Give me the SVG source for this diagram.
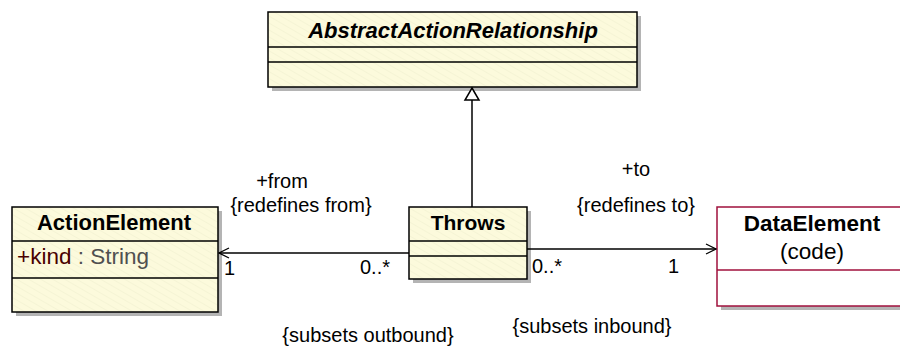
<svg xmlns="http://www.w3.org/2000/svg" width="900" height="346" viewBox="0 0 900 346">
<defs>
<pattern id="hatch" width="6" height="6" patternUnits="userSpaceOnUse" patternTransform="rotate(-60)">
<rect width="6" height="6" fill="#fcfadc"/>
<line x1="0" y1="0" x2="0" y2="6" stroke="#efeecf" stroke-width="1"/>
</pattern>
<marker id="open" markerWidth="12" markerHeight="12" refX="11" refY="6" orient="auto" markerUnits="userSpaceOnUse">
<path d="M1,1 L11,6 L1,11" fill="none" stroke="#000" stroke-width="1.3"/>
</marker>
</defs>
<style>
.shadow{fill:#b4b4b4}
.box{fill:url(#hatch);stroke:#000;stroke-width:1.5}
.sep{stroke:#000;stroke-width:1.5}
.dbox{fill:#fff;stroke:#a0103c;stroke-width:1.5}
.dsep{stroke:#a0103c;stroke-width:1.5}
.name{font-family:"Liberation Sans",Arial,sans-serif;font-weight:bold;font-size:21px;text-anchor:middle;fill:#000}
.lbl{font-family:"Liberation Sans",Arial,sans-serif;font-size:20px;fill:#000}
.conn{stroke:#000;stroke-width:1.5;fill:none}
</style>
<g id="AbstractActionRelationship">
<rect class="shadow" x="272" y="16" width="369" height="75"/>
<rect class="box" x="268" y="12" width="369" height="75"/>
<line class="sep" x1="268" y1="47" x2="637" y2="47"/>
<line class="sep" x1="268" y1="62" x2="637" y2="62"/>
<text class="name" x="453" y="38" style="font-style:italic;font-size:22px">AbstractActionRelationship</text>
</g>
<g id="ActionElement">
<rect class="shadow" x="16" y="211" width="206" height="105"/>
<rect class="box" x="12" y="207" width="206" height="105"/>
<line class="sep" x1="12" y1="241" x2="218" y2="241"/>
<line class="sep" x1="12" y1="278" x2="218" y2="278"/>
<text class="name" x="114" y="230" style="font-size:22px">ActionElement</text>
<text class="lbl" x="17" y="264" style="font-size:22.5px"><tspan fill="#4a0000">+kind</tspan><tspan fill="#505050"> : String</tspan></text>
</g>
<g id="Throws">
<rect class="shadow" x="413" y="211" width="118" height="72"/>
<rect class="box" x="409" y="207" width="118" height="72"/>
<line class="sep" x1="409" y1="241" x2="527" y2="241"/>
<line class="sep" x1="409" y1="256" x2="527" y2="256"/>
<text class="name" x="468" y="230">Throws</text>
</g>
<g id="DataElement">
<rect class="shadow" x="721" y="211" width="190" height="99"/>
<rect class="dbox" x="717" y="207" width="190" height="99"/>
<line class="dsep" x1="717" y1="270" x2="907" y2="270"/>
<text class="name" x="812" y="231" style="font-size:22.5px">DataElement</text>
<text class="lbl" x="812" y="259" text-anchor="middle" style="font-size:22.5px">(code)</text>
</g>
<g id="connectors">
<line class="conn" x1="472" y1="207" x2="472" y2="100"/>
<path d="M472,88 L479,100 L465,100 Z" fill="#fff" stroke="#000" stroke-width="1.5"/>
<line class="conn" x1="409" y1="253" x2="219" y2="253" marker-end="url(#open)"/>
<line class="conn" x1="527" y1="249" x2="716" y2="249" marker-end="url(#open)"/>
</g>
<g id="labels">
<text class="lbl" x="282" y="188" text-anchor="middle">+from</text>
<text class="lbl" x="301" y="212" text-anchor="middle">{redefines from}</text>
<text class="lbl" x="224" y="275">1</text>
<text class="lbl" x="360" y="274">0..*</text>
<text class="lbl" x="636" y="176" text-anchor="middle">+to</text>
<text class="lbl" x="636" y="212" text-anchor="middle">{redefines to}</text>
<text class="lbl" x="532" y="273">0..*</text>
<text class="lbl" x="668" y="273">1</text>
<text class="lbl" x="368" y="342" text-anchor="middle">{subsets outbound}</text>
<text class="lbl" x="592" y="333" text-anchor="middle">{subsets inbound}</text>
</g>
</svg>
